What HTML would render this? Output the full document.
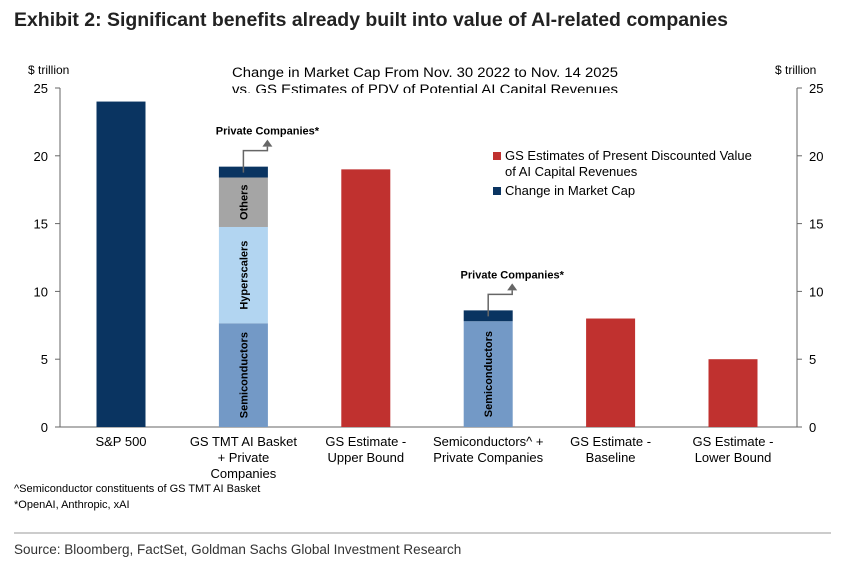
<!DOCTYPE html>
<html><head><meta charset="utf-8"><style>
body{margin:0;background:#fff;width:861px;height:560px;overflow:hidden;font-family:"Liberation Sans",sans-serif}
</style></head><body>
<svg width="861" height="560" font-family="Liberation Sans, sans-serif">
<text x="14" y="26" font-size="19" font-weight="bold" fill="#222" textLength="714" lengthAdjust="spacingAndGlyphs">Exhibit 2:  Significant benefits already built into value of AI-related companies</text>
<text x="28" y="74" font-size="12" fill="#000">$ trillion</text>
<text x="775" y="74" font-size="12" fill="#000">$ trillion</text>
<text x="232" y="77" font-size="13.5" fill="#000" textLength="386" lengthAdjust="spacingAndGlyphs">Change in Market Cap From Nov. 30 2022 to Nov. 14 2025</text>
<text x="232" y="94" font-size="13.5" fill="#000" textLength="386" lengthAdjust="spacingAndGlyphs">vs. GS Estimates of PDV of  Potential AI Capital Revenues</text>
<rect x="0" y="93" width="861" height="6" fill="#fff"/>
<g id="axes"></g>
<g id="bars"></g>
<rect x="493" y="152" width="8" height="8" fill="#c0312f"/>
<text x="505" y="160" font-size="13">GS Estimates of Present Discounted Value</text>
<text x="505" y="176" font-size="13">of AI Capital Revenues</text>
<rect x="493" y="187" width="8" height="8" fill="#0a3461"/>
<text x="505" y="195" font-size="13">Change in Market Cap</text>
<text x="14" y="492" font-size="11">^Semiconductor constituents of GS TMT AI Basket</text>
<text x="14" y="508" font-size="11">*OpenAI, Anthropic, xAI</text>
<line x1="14" y1="533" x2="831" y2="533" stroke="#999" stroke-width="1"/>
<text x="14" y="554" font-size="13.5" fill="#333">Source: Bloomberg, FactSet, Goldman Sachs Global Investment Research</text>
</svg>
<script>
const categories=[["S&P 500"],["GS TMT AI Basket","+ Private","Companies"],["GS Estimate -","Upper Bound"],["Semiconductors^ +","Private Companies"],["GS Estimate -","Baseline"],["GS Estimate -","Lower Bound"]];
const semis=[0,7.65,0,7.8,0,0];
const hyperscalers=[0,7.1,0,0,0,0];
const others=[0,3.65,0,0,0,0];
const privateCos=[0,0.8,0,0.8,0,0];
const sp500=[24,0,0,0,0,0];
const gsEstimates=[0,0,19,0,8,5];
const yTicks=[0,5,10,15,20,25];
const NS="http://www.w3.org/2000/svg";
const x0=60,x1=797,yZero=427,yTop=88,maxV=25;
const y=v=>yZero-(v/maxV)*(yZero-yTop);
const xc=i=>121+i*122.4;
const bw=49;
function mk(t,a,p){const e=document.createElementNS(NS,t);for(const k in a)e.setAttribute(k,a[k]);(p||document.getElementById('bars')).appendChild(e);return e;}
const ax=document.getElementById('axes');
let e;
e=mk('line',{x1:x0,y1:yTop,x2:x0,y2:yZero,stroke:'#666'},ax);

e=mk('line',{x1:x1,y1:yTop,x2:x1,y2:yZero,stroke:'#666'},ax);

e=mk('line',{x1:x0,y1:yZero,x2:x1,y2:yZero,stroke:'#666'},ax);

yTicks.forEach(v=>{
 mk('line',{x1:x0-5,y1:y(v),x2:x0,y2:y(v),stroke:'#666'},ax);
 mk('line',{x1:x1,y1:y(v),x2:x1+5,y2:y(v),stroke:'#666'},ax);
 e=mk('text',{x:x0-12,y:y(v)+5,'font-size':13,'text-anchor':'end'},ax);e.textContent=v;
 
 e=mk('text',{x:x1+12,y:y(v)+5,'font-size':13},ax);e.textContent=v;
 
});
categories.forEach((c,i)=>{
 c.forEach((l,j)=>{e=mk('text',{x:xc(i),y:446+j*16,'font-size':13,'text-anchor':'middle'},ax);e.textContent=l;
 });
});
function seg(i,base,v,col,name,label){
 if(!v)return base;
 const r=mk('rect',{x:xc(i)-bw/2,y:y(base+v),width:bw,height:y(base)-y(base+v),fill:col});
 
 if(label){const cy=(y(base)+y(base+v))/2;const t=mk('text',{x:0,y:0,'font-size':11,'font-weight':'bold','text-anchor':'middle',transform:`translate(${xc(i)+4},${cy}) rotate(-90)`});t.textContent=label;
 }
 return base+v;
}
categories.forEach((c,i)=>{
 let b=0;
 b=seg(i,b,sp500[i],'#0a3461','bar-sp500');
 b=seg(i,b,semis[i],'#7399c6','bar-semiconductors','Semiconductors');
 b=seg(i,b,hyperscalers[i],'#b2d5f1','bar-hyperscalers','Hyperscalers');
 b=seg(i,b,others[i],'#a5a5a5','bar-others','Others');
 const top=seg(i,b,privateCos[i],'#0a3461','bar-private-companies');
 if(privateCos[i]){
  const cx=xc(i),yt=y(top)+6;
  const arrowTop=y(top)-22;
  mk('polyline',{points:`${cx},${yt} ${cx},${arrowTop+6} ${cx+24},${arrowTop+6} ${cx+24},${arrowTop+2}`,fill:'none',stroke:'#666','stroke-width':1.5});
  mk('polygon',{points:`${cx+19},${arrowTop+2} ${cx+29},${arrowTop+2} ${cx+24},${arrowTop-5}`,fill:'#666'});
  e=mk('text',{x:cx+24,y:arrowTop-10,'font-size':11,'font-weight':'bold','text-anchor':'middle'});e.textContent='Private Companies*';
  
 }
 seg(i,0,gsEstimates[i],'#c0312f','bar-gs-estimate');
});
</script>
</body></html>
